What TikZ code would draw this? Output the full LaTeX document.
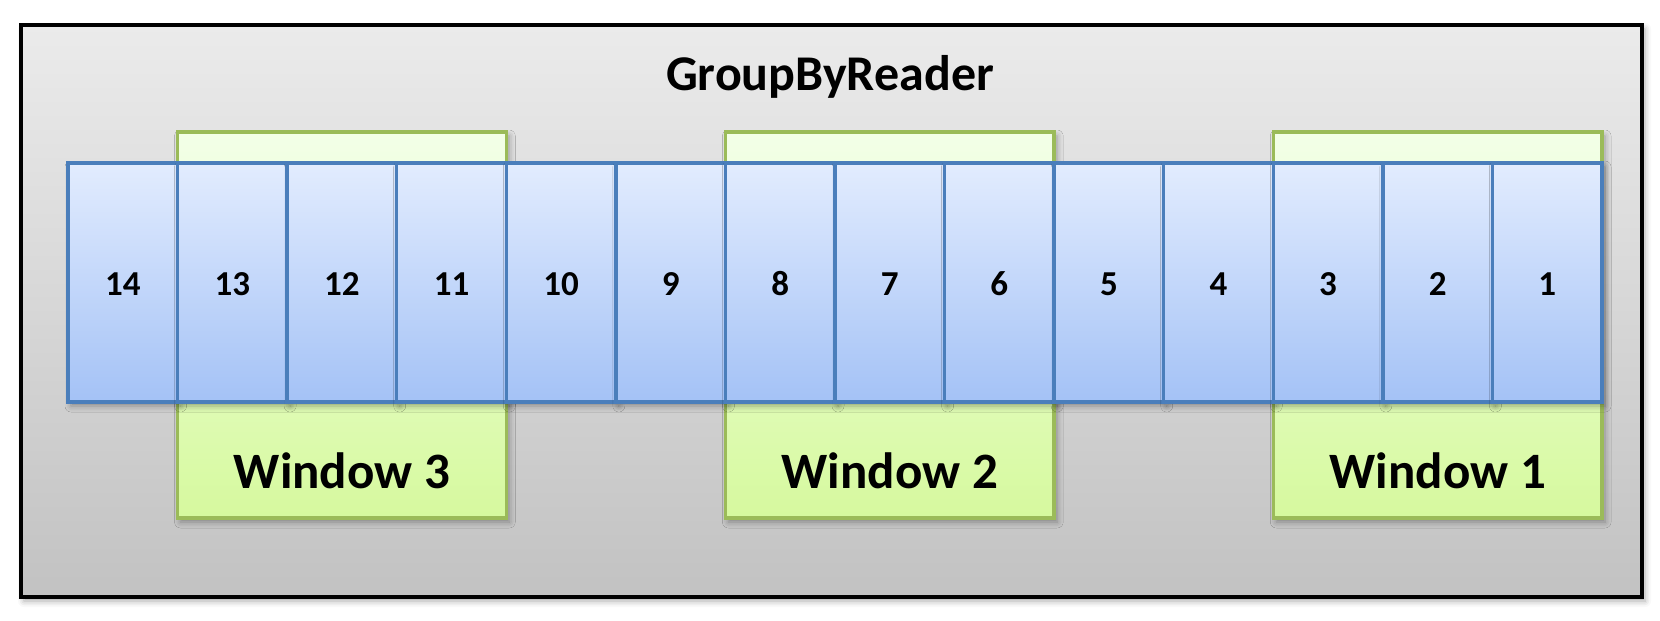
\documentclass[tikz,border=0pt]{standalone}
\usepackage{fontspec}
\setmainfont{Carlito}
\usetikzlibrary{shadows.blur}
\definecolor{frametop}{HTML}{EBEBEB}
\definecolor{framebot}{HTML}{C2C2C2}
\definecolor{celltop}{HTML}{E2ECFE}
\definecolor{cellbot}{HTML}{A4C2F6}
\definecolor{cellline}{HTML}{4A7EBB}
\definecolor{wintop}{HTML}{F3FFE8}
\definecolor{winbot}{HTML}{D6F99E}
\definecolor{winline}{HTML}{9BBB59}
\tikzset{
  softshadow/.style={blur shadow={shadow xshift=3pt,shadow yshift=-4pt,shadow blur radius=6pt,shadow opacity=35}},
  outerbox/.style={draw=black,line width=3.5pt,top color=frametop,bottom color=framebot,inner sep=0pt,outer sep=0pt,softshadow},
  cellbox/.style={draw=cellline,line width=3.5pt,top color=celltop,bottom color=cellbot,minimum width=109.57pt,minimum height=239pt,inner sep=0pt,outer sep=0pt,softshadow},
  celltext/.style={font=\bfseries\fontsize{35}{40}\selectfont,inner sep=0pt,anchor=base},
  winbox/.style={draw=winline,line width=3.5pt,top color=wintop,bottom color=winbot,minimum width=328.7pt,minimum height=386pt,inner sep=0pt,outer sep=0pt,softshadow},
  wintext/.style={font=\bfseries\fontsize{51}{56}\selectfont,inner sep=0pt,anchor=base},
  titletext/.style={font=\bfseries\fontsize{50}{56}\selectfont,inner sep=0pt,anchor=base}
}
\begin{document}
\begin{tikzpicture}[x=1pt,y=-1pt]
\useasboundingbox (0,0) rectangle (1660,621);
\node[outerbox,minimum width=1621pt,minimum height=572pt] (frame) at (831.5,311) {};
\node[titletext] (title) at (830,90) {GroupByReader};
\node[winbox] (w3) at (341.9,325) {};
\node[winbox] (w2) at (889.8,325) {};
\node[winbox] (w1) at (1437.7,325) {};
\foreach \k in {0,...,13} {
  \pgfmathtruncatemacro\n{14-\k}
  \node[cellbox] (c\n) at ({68+109.57*(\k+0.5)},282.5) {};
  \node[celltext] (n\n) at ({68+109.57*(\k+0.5)},295) {\n};
}
\node[wintext] (t3) at (341.9,488) {Window 3};
\node[wintext] (t2) at (889.8,488) {Window 2};
\node[wintext] (t1) at (1437.7,488) {Window 1};
\end{tikzpicture}
\end{document}
